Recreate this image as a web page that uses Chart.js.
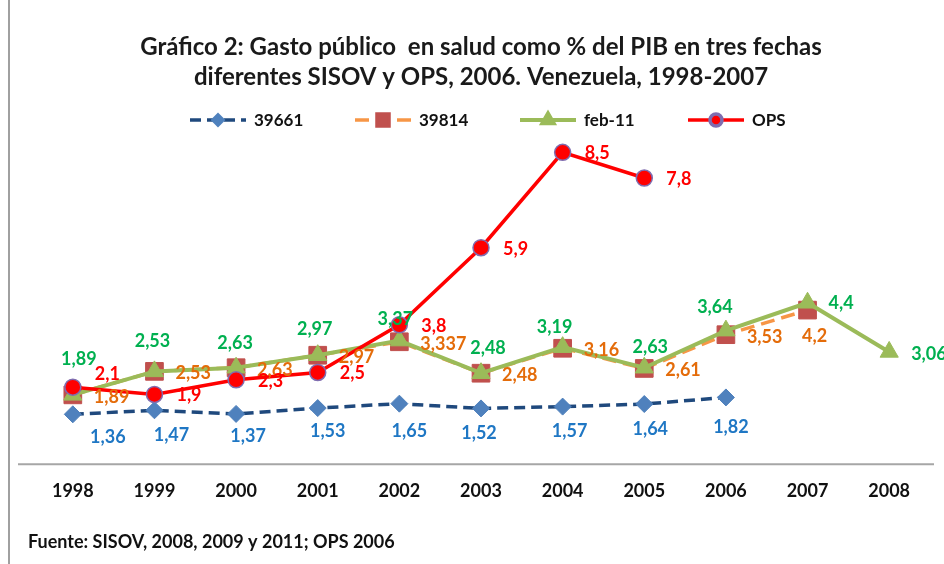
<!DOCTYPE html>
<html><head><meta charset="utf-8">
<script src="https://cdn.jsdelivr.net/npm/chart.js@4.4.1/dist/chart.umd.min.js"></script>
<style>html,body{margin:0;padding:0;background:#fff;} #wrap{width:944px;height:564px;position:relative}</style>
</head><body><div id="wrap"><canvas id="c" width="944" height="564"></canvas></div>
<script>
// ---- data ----
const years = ['1998','1999','2000','2001','2002','2003','2004','2005','2006','2007','2008'];
const serie39661 = [1.36,1.47,1.37,1.53,1.65,1.52,1.57,1.64,1.82,null,null];
const serie39814 = [1.89,2.53,2.63,2.97,3.337,2.48,3.16,2.61,3.53,4.2,null];
const serieFeb11 = [1.89,2.53,2.63,2.97,3.37,2.48,3.19,2.63,3.64,4.4,3.06];
const serieOPS   = [2.1,1.9,2.3,2.5,3.8,5.9,8.5,7.8,null,null,null];
const seriesNames = ['39661','39814','feb-11','OPS'];
const titleLines = ['Gráfico 2: Gasto público  en salud como % del PIB en tres fechas','diferentes SISOV y OPS, 2006. Venezuela, 1998-2007'];
const sourceNote = 'Fuente: SISOV, 2008, 2009 y 2011; OPS 2006';

// ---- label placement (styling, not data) ----
const labelCfg = [
  {color:'#1F77C4', align:'center', dx:[35,17,12,10,10,-2,7,6,5], dy:[23,25,22,23,28,25,25,25,30]},
  {color:'#E46C0A', align:'left', dx:21, dy:2, over:{9:{align:'center',dx:7,dy:26}}},
  {color:'#00B050', align:'center', dx:[6,-2,-1,-3,-4,7,-8,6,-11], dy:[-36,-30,-25,-26,-21,-25,-20,-21,-23], over:{9:{align:'left',dx:21,dy:0},10:{align:'left',dx:22,dy:2}}},
  {color:'#FF0000', align:'left', dx:22, dy:1, over:{0:{dy:-13}}}
];

Chart.defaults.font.family = 'Lato';

const fmt = v => String(v).replace('.', ',');

const labelPlugin = {
  id: 'valueLabels',
  afterDatasetsDraw(chart) {
    const ctx = chart.ctx;
    ctx.save();
    ctx.font = 'bold 18px Lato';
    ctx.textBaseline = 'middle';
    chart.data.datasets.forEach((ds, di) => {
      const meta = chart.getDatasetMeta(di);
      const cfg = labelCfg[di];
      meta.data.forEach((pt, i) => {
        const v = ds.data[i];
        if (v === null || v === undefined) return;
        const o = (cfg.over && cfg.over[i]) || {};
        const dx = o.dx !== undefined ? o.dx : (Array.isArray(cfg.dx) ? cfg.dx[i] : cfg.dx);
        const dy = o.dy !== undefined ? o.dy : (Array.isArray(cfg.dy) ? cfg.dy[i] : cfg.dy);
        ctx.textAlign = o.align || cfg.align;
        ctx.fillStyle = cfg.color;
        ctx.fillText(fmt(v), pt.x + dx, pt.y + dy);
      });
    });
    ctx.restore();
  }
};

const decoPlugin = {
  id: 'deco',
  beforeDraw(chart) {
    const ctx = chart.ctx;
    ctx.save();
    ctx.fillStyle = '#fff';
    ctx.fillRect(0, 0, chart.width, chart.height);
    ctx.restore();
  },
  afterDraw(chart) {
    const ctx = chart.ctx;
    const ca = chart.chartArea;
    const y0 = chart.scales.y.getPixelForValue(0);
    ctx.save();
    // frame line on the left
    ctx.strokeStyle = '#A0A0A0';
    ctx.lineWidth = 2;
    ctx.beginPath(); ctx.moveTo(9, 0); ctx.lineTo(9, chart.height); ctx.stroke();
    // horizontal axis line
    ctx.strokeStyle = '#A6A6A6';
    ctx.lineWidth = 2;
    ctx.beginPath(); ctx.moveTo(ca.left - 14, y0); ctx.lineTo(ca.right + 4, y0); ctx.stroke();
    // legend
    const starts = [190, 355, 520, 688];
    const ly = 120;
    chart.data.datasets.forEach((ds, i) => {
      const x = starts[i];
      ctx.save();
      ctx.strokeStyle = ds.borderColor;
      ctx.lineWidth = ds.borderWidth;
      ctx.setLineDash(ds.borderDash || []);
      ctx.beginPath(); ctx.moveTo(x, ly); ctx.lineTo(x + 56, ly); ctx.stroke();
      ctx.setLineDash([]);
      ctx.fillStyle = ds.pointBackgroundColor;
      ctx.strokeStyle = ds.pointBorderColor;
      Chart.helpers.drawPoint(ctx, {pointStyle: ds.pointStyle, radius: ds.legendRadius, rotation: 0, borderWidth: ds.pointBorderWidth}, x + 28, ly);
      ctx.restore();
      ctx.fillStyle = '#111';
      ctx.font = 'bold 17px Lato';
      ctx.textAlign = 'left';
      ctx.textBaseline = 'middle';
      ctx.fillText(seriesNames[i], x + 64, ly + 1);
    });
    // source note
    ctx.fillStyle = '#111';
    ctx.font = 'bold 18px Lato';
    ctx.textAlign = 'left';
    ctx.textBaseline = 'middle';
    ctx.fillText(sourceNote, 28, 542);
    ctx.restore();
  }
};

new Chart(document.getElementById('c'), {
  type: 'line',
  data: {
    labels: years,
    datasets: [
      {label: seriesNames[0], data: serie39661, order: 4,
       borderColor: '#1F497D', borderWidth: 3.5, borderDash: [11, 6],
       pointStyle: 'rectRot', pointRadius: 8.5, legendRadius: 5,
       pointBackgroundColor: '#4F81BD', pointBorderColor: '#4F81BD', pointBorderWidth: 1},
      {label: seriesNames[1], data: serie39814, order: 3,
       borderColor: '#F79646', borderWidth: 3.5, borderDash: [14, 7],
       pointStyle: 'rect', pointRadius: 12.5, legendRadius: 8.5,
       pointBackgroundColor: '#C0504D', pointBorderColor: '#C0504D', pointBorderWidth: 1},
      {label: seriesNames[2], data: serieFeb11, order: 2,
       borderColor: '#9BBB59', borderWidth: 4,
       pointStyle: 'triangle', pointRadius: 10.5, legendRadius: 6.5,
       pointBackgroundColor: '#9BBB59', pointBorderColor: '#9BBB59', pointBorderWidth: 1},
      {label: seriesNames[3], data: serieOPS, order: 1,
       borderColor: '#FF0000', borderWidth: 3.5,
       pointStyle: 'circle', pointRadius: 8, legendRadius: 6,
       pointBackgroundColor: '#FF0000', pointBorderColor: '#7F6DB0', pointBorderWidth: 1.5}
    ]
  },
  options: {
    responsive: false,
    animation: false,
    events: [],
    layout: {padding: {left: 32, right: 14, top: 0, bottom: 46}},
    elements: {line: {tension: 0}},
    datasets: {line: {clip: false, spanGaps: false}},
    plugins: {
      legend: {display: false},
      tooltip: {enabled: false},
      title: {
        display: true, text: titleLines, color: '#1a1a1a',
        font: {family: 'Lato', size: 24, weight: 'bold', lineHeight: 30/24},
        padding: {top: 32, bottom: 42}
      }
    },
    scales: {
      x: {
        offset: true,
        grid: {display: false, drawTicks: false},
        border: {display: false},
        ticks: {color: '#111', font: {family: 'Lato', size: 18, weight: 'bold', lineHeight: 1.1}, padding: 17, autoSkip: false, maxRotation: 0}
      },
      y: {display: false, min: 0, max: 9}
    }
  },
  plugins: [labelPlugin, decoPlugin]
});
</script>
</body></html>
